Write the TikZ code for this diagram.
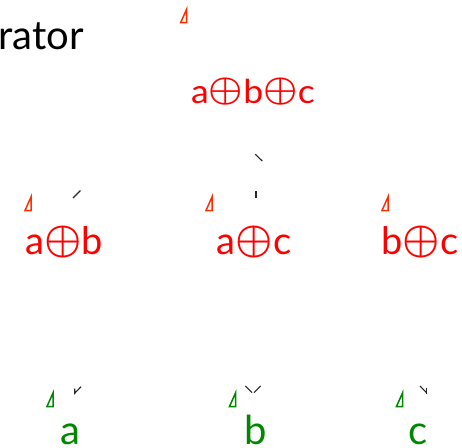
\RequirePackage{fix-cm}
\documentclass[tikz,border=0pt]{standalone}
\usepackage{fontspec}
\setmainfont{Lato}
\newcommand{\op}[2]{\raisebox{#2}{\scalebox{#1}{\boldmath$\oplus$}}}
\definecolor{nodered}{RGB}{255,0,0}
\definecolor{trired}{RGB}{255,45,0}
\definecolor{leafgreen}{RGB}{0,135,0}
\begin{document}
\begin{tikzpicture}[x=1pt,y=-1pt,
  txt/.style={anchor=base, inner sep=0pt, text depth=0pt},
  topnode/.style={txt, text=nodered, font=\fontsize{33}{33}\selectfont},
  midnode/.style={txt, text=nodered, font=\fontsize{38}{38}\selectfont},
  leafnode/.style={txt, text=leafgreen, font=\fontsize{40}{40}\selectfont},
  redtri/.style={draw=trired, line width=1.5pt, line join=miter},
  greentri/.style={draw=leafgreen, line width=1.5pt, line join=miter},
  frag/.style={draw=black!85, line width=1.1pt}
]
\useasboundingbox (0,0) rectangle (462,447);
% title fragment
\node[anchor=base west, inner sep=0pt, text depth=0pt, font=\fontsize{40}{40}\selectfont] (title) at (-2,49) {rator};
% nodes
\node[topnode] (abc) at (253,103) {\scalebox{1.08}[1]{a\op{1.08}{3pt}b\op{1.08}{3pt}c}};
\node[midnode] (ab) at (64,254) {a\op{1.1}{2pt}b};
\node[midnode] (ac) at (254,254) {a\op{1.1}{2pt}c};
\node[midnode] (bc) at (420,254) {b\op{1.1}{2pt}c};
\node[leafnode] (a) at (70,444) {a};
\node[leafnode] (b) at (256,444) {b};
\node[leafnode] (c) at (418,444) {c};
% triangles
\draw[redtri] (180.7,22.5) -- ++(6,0) -- ++(0,-13.5) -- cycle;
\draw[redtri] (25,210.5) -- ++(6,0) -- ++(0,-13.5) -- cycle;
\draw[redtri] (206,210.5) -- ++(6,0) -- ++(0,-13.5) -- cycle;
\draw[redtri] (382,210.5) -- ++(6,0) -- ++(0,-13.5) -- cycle;
\draw[greentri] (47,406.5) -- ++(6,0) -- ++(0,-13.5) -- cycle;
\draw[greentri] (229.5,406.5) -- ++(6,0) -- ++(0,-13.5) -- cycle;
\draw[greentri] (396.5,406.5) -- ++(6,0) -- ++(0,-13.5) -- cycle;
% connector fragments
\coordinate (f1a) at (73,198); \coordinate (f1b) at (80.5,190.5);
\draw[frag] (f1a) -- (f1b);
\coordinate (f2a) at (255.3,154.3); \coordinate (f2b) at (262.3,161);
\draw[frag] (f2a) -- (f2b);
\coordinate (f3a) at (256,191); \coordinate (f3b) at (256,197.7);
\draw[frag] (f3a) -- (f3b);
\coordinate (f4a) at (74.7,388.5); \coordinate (f4b) at (74.7,393.3); \coordinate (f4c) at (81,386.7);
\draw[frag] (f4a) -- (f4b) -- (f4c);
\coordinate (f5a) at (245.3,386); \coordinate (f5b) at (252,392.7);
\draw[frag] (f5a) -- (f5b);
\coordinate (f6a) at (254,392.7); \coordinate (f6b) at (260.7,386);
\draw[frag] (f6a) -- (f6b);
\coordinate (f7a) at (420,386); \coordinate (f7b) at (426.5,392.7);
\draw[frag] (f7a) -- (f7b);
\coordinate (f8a) at (426.5,388.3); \coordinate (f8b) at (426.5,394);
\draw[frag] (f8a) -- (f8b);
\end{tikzpicture}
\end{document}
